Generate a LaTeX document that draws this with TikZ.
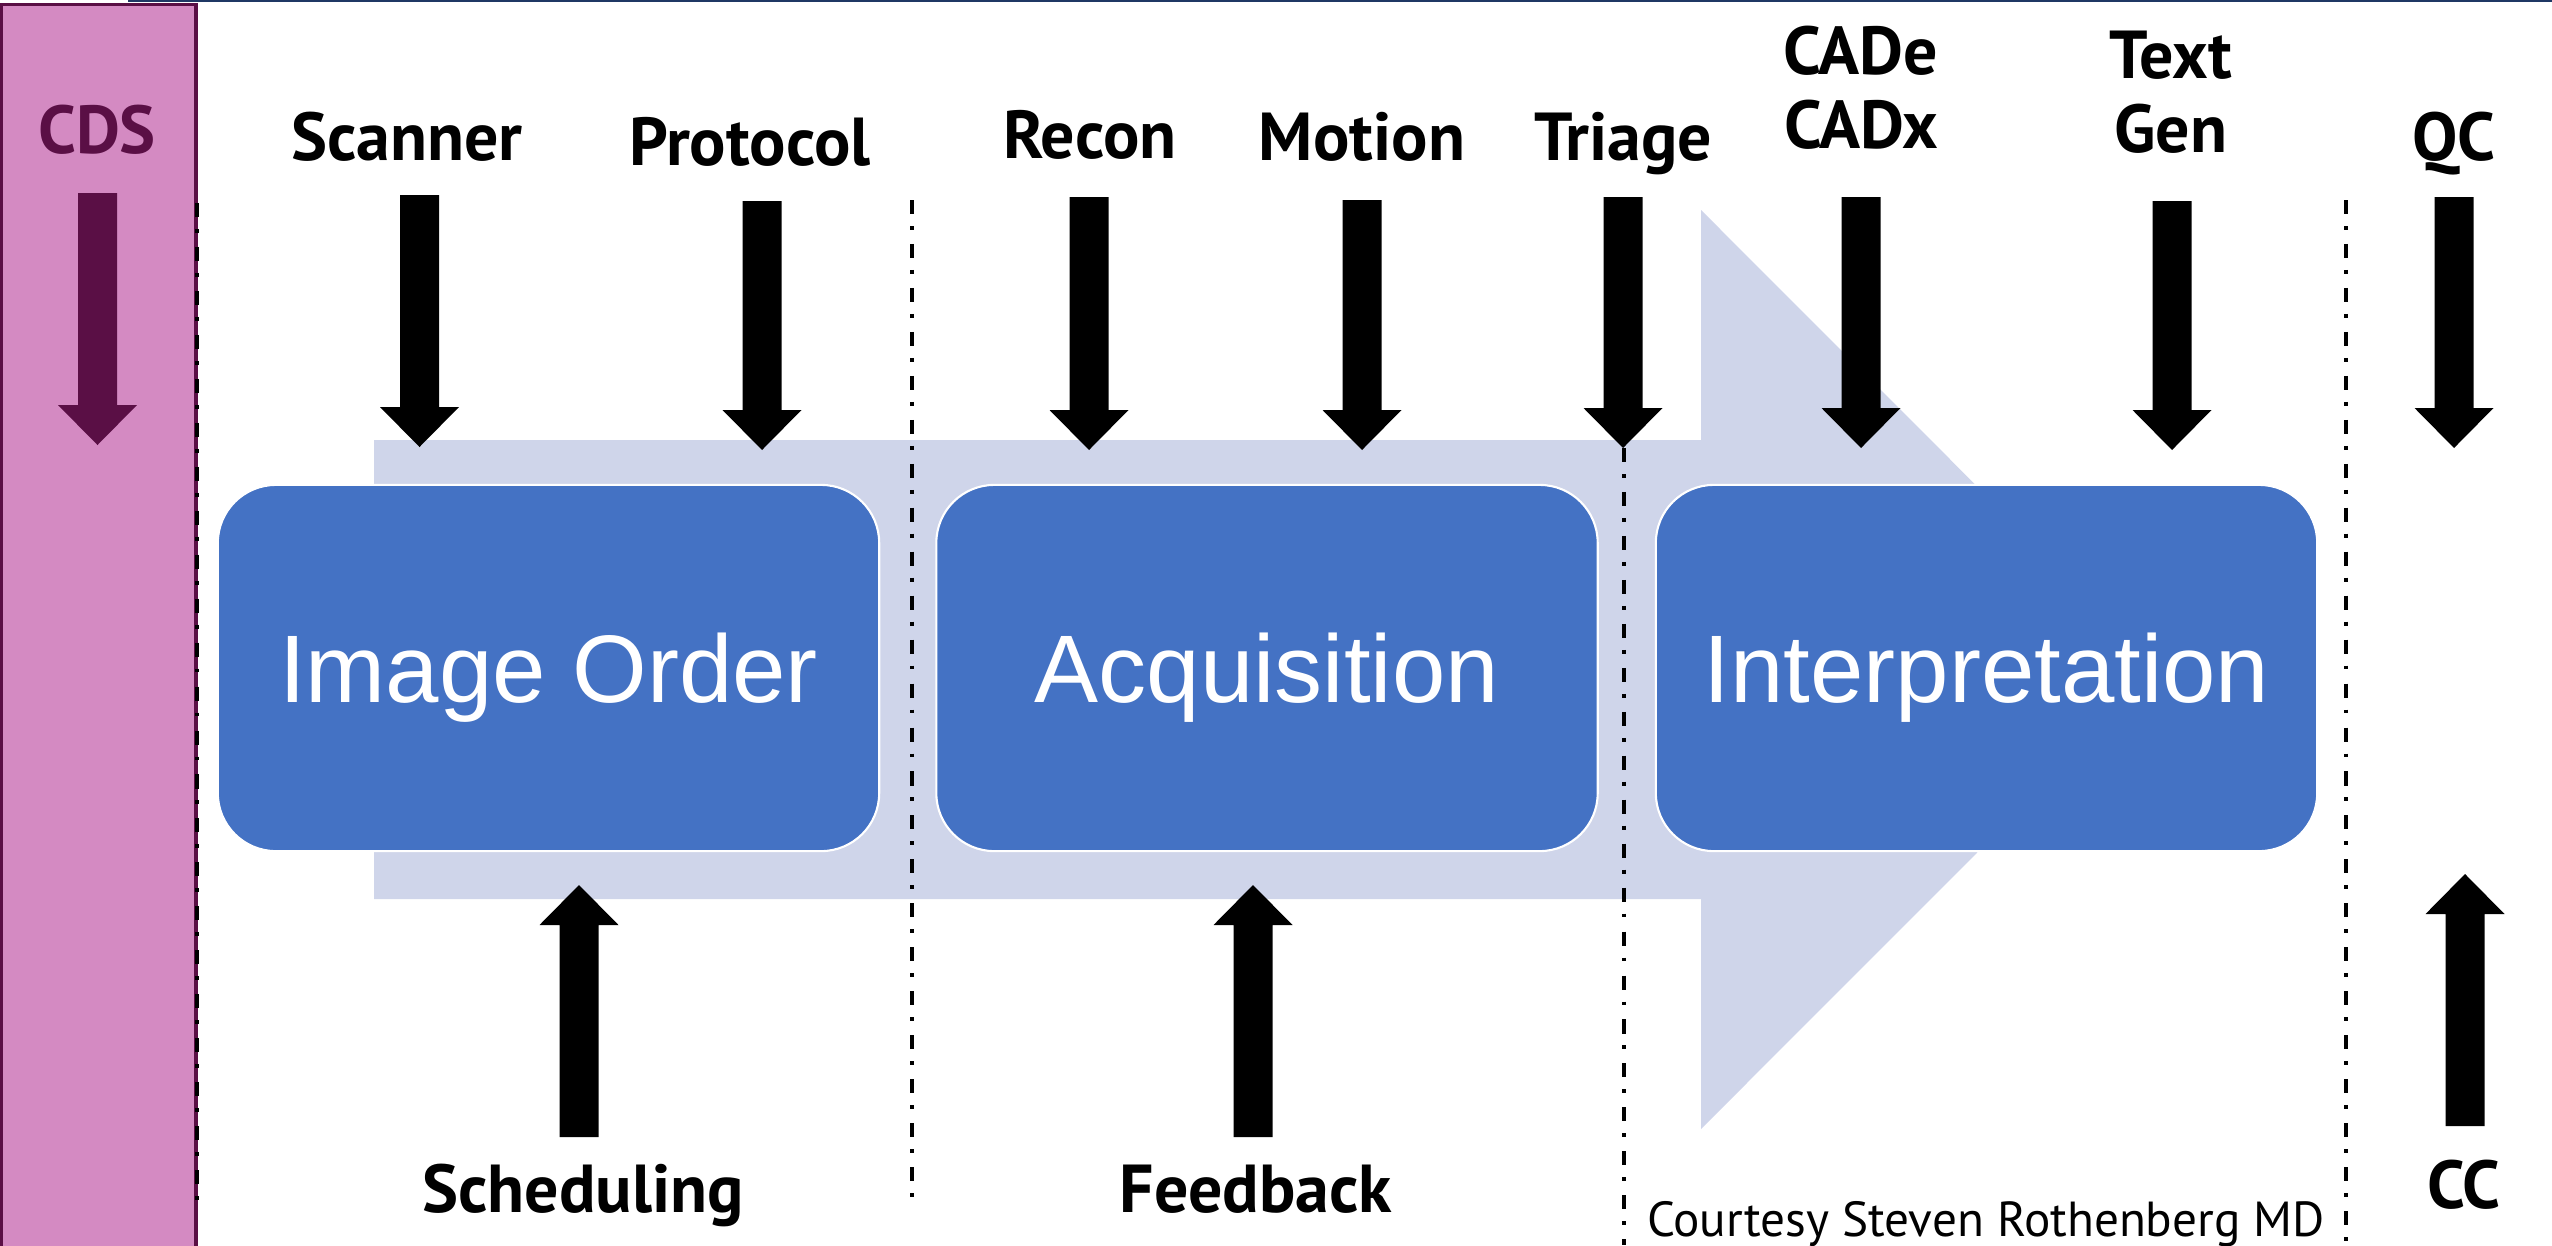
\documentclass[tikz,border=0pt]{standalone}
\usepackage{fontspec}
\newfontfamily\lblfont{PT Sans}
\newfontfamily\boxfont{Liberation Sans}
\definecolor{pinkbar}{HTML}{D48AC2}
\definecolor{plum}{HTML}{5A0F45}
\definecolor{band}{HTML}{CFD5EA}
\definecolor{boxblue}{HTML}{4472C4}
\definecolor{navy}{HTML}{1F3864}
\newcommand{\blkdown}[4]{%
  \fill[#1] ({#2-19.5},{#3}) -- ({#2+19.5},{#3}) -- ({#2+19.5},{#4-40}) -- ({#2+39.5},{#4-40}) -- ({#2},{#4}) -- ({#2-39.5},{#4-40}) -- ({#2-19.5},{#4-40}) -- cycle;}
\newcommand{\blkup}[4]{%
  \fill[#1] ({#2-19.5},{#3}) -- ({#2+19.5},{#3}) -- ({#2+19.5},{#4+40}) -- ({#2+39.5},{#4+40}) -- ({#2},{#4}) -- ({#2-39.5},{#4+40}) -- ({#2-19.5},{#4+40}) -- cycle;}
\tikzset{
  stagebox/.style={rectangle, rounded corners=0.58cm, fill=boxblue, draw=white, line width=0.6pt,
    minimum width=6.61cm, minimum height=3.66cm, inner sep=0pt, text=white, text depth=0pt,
    font=\boxfont\fontsize{27.3}{32}\selectfont},
  lbl/.style={anchor=base, inner sep=0pt, align=center, font=\lblfont\bfseries\fontsize{19.3}{21}\selectfont},
  sepline/.style={line width=1.1pt, dash pattern=on 4pt off 3.4pt on 1.1pt off 4pt},
}
\begin{document}
\begin{tikzpicture}[x=0.01cm, y=-0.01cm]
\useasboundingbox (0,0) rectangle (2552,1245);
% top line
\draw[navy, line width=0.7pt] (128,1) -- (2552,1);
% CDS bar
\draw[plum, fill=pinkbar, line width=1pt] (1.5,4.5) rectangle (196,1260);
% big process arrow
\fill[band] (374,440) -- (1701,440) -- (1701,210) -- (2160,669.5) -- (1701,1129) -- (1701,899) -- (374,899) -- cycle;
% separator lines
\coordinate (s1a) at (197,203);  \coordinate (s1b) at (197,1203);
\coordinate (s2a) at (912,200);  \coordinate (s2b) at (912,1204);
\coordinate (s3a) at (1624,448); \coordinate (s3b) at (1624,1245);
\coordinate (s4a) at (2346,200); \coordinate (s4b) at (2346,1245);
\draw[sepline] (s1a) -- (s1b);
\draw[sepline] (s2a) -- (s2b);
\draw[sepline] (s3a) -- (s3b);
\draw[sepline] (s4a) -- (s4b);
% stage boxes
\node[stagebox] (order) at (548.5,668) {Image Order};
\node[stagebox] (acq) at (1267,668) {Acquisition};
\node[stagebox] (interp) at (1986.5,668) {Interpretation};
% labels
\node[lbl, text=plum] (cds) at (97,153) {CDS};
\node[lbl] (scanner) at (407,160) {Scanner};
\node[lbl] (protocol) at (750,165) {Protocol};
\node[lbl] (recon) at (1090,158) {Recon};
\node[lbl] (motion) at (1362,160) {Motion};
\node[lbl] (triage) at (1623,160) {Triage};
\node[lbl] (cade) at (1861,148) {CADe\\CADx};
\node[lbl] (textgen) at (2171,152) {Text\\Gen};
\node[lbl] (qc) at (2454,160) {QC};
\node[lbl] (sched) at (583,1212) {Scheduling};
\node[lbl] (feedback) at (1256,1212) {Feedback};
\node[lbl] (cc) at (2464,1208) {CC};
\node[anchor=base, inner sep=0pt, font=\lblfont\fontsize{14}{16}\selectfont] (courtesy) at (1986,1236) {Courtesy Steven Rothenberg MD};
% down arrows
\blkdown{plum}{97.5}{193}{445}
\blkdown{black}{419.5}{195}{447}
\blkdown{black}{762}{201}{450}
\blkdown{black}{1089}{197}{450}
\blkdown{black}{1362}{200}{450}
\blkdown{black}{1623}{197}{448}
\blkdown{black}{1861}{197}{448}
\blkdown{black}{2172}{201}{450}
\blkdown{black}{2454}{197}{448}
% up arrows
\blkup{black}{579}{1137}{885}
\blkup{black}{1253}{1137}{885}
\blkup{black}{2465}{1126}{874}
\end{tikzpicture}
\end{document}
